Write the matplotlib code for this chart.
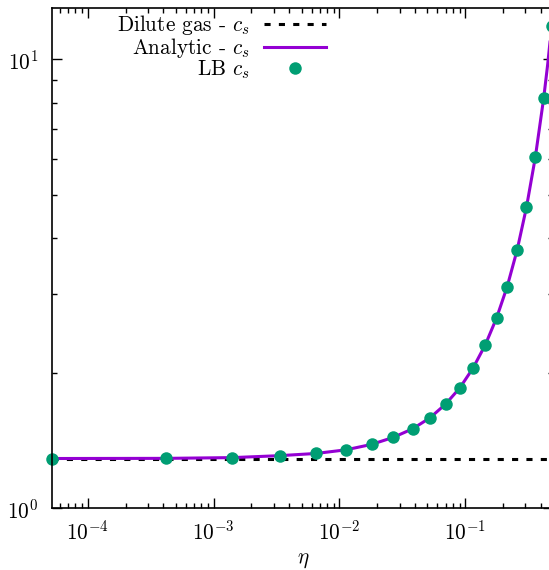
import numpy as np
import matplotlib
matplotlib.use('Agg')
from matplotlib import pyplot as plt
from matplotlib.ticker import LogLocator, FuncFormatter, NullFormatter

plt.rcParams['font.family'] = ['cmr10']
plt.rcParams['mathtext.fontset'] = 'cm'
plt.rcParams['axes.formatter.use_mathtext'] = True
plt.rcParams['font.size'] = 15.3

# packing fraction of the LB runs and measured sound speed
eta_lb = [5.24e-5, 4.19e-4, 1.41e-3, 3.35e-3, 6.54e-3, 1.13e-2, 1.80e-2,
          2.68e-2, 3.82e-2, 5.24e-2, 6.97e-2, 9.05e-2, 0.1150, 0.1437,
          0.1767, 0.2145, 0.2572, 0.3054, 0.3591, 0.4189, 0.4849]
cs_lb = [1.291, 1.292, 1.297, 1.310, 1.325, 1.350, 1.388,
         1.439, 1.504, 1.591, 1.707, 1.856, 2.053, 2.311,
         2.653, 3.115, 3.755, 4.68, 6.05, 8.21, 11.90]

# analytic curve
eta_an = [5.24e-5, 4.19e-4, 1.41e-3, 3.35e-3, 6.54e-3, 1.13e-2, 1.80e-2,
          2.68e-2, 3.82e-2, 5.24e-2, 6.97e-2, 9.05e-2, 0.1150, 0.1437,
          0.1767, 0.2145, 0.2572, 0.3054, 0.3591, 0.4189, 0.45, 0.4849, 0.5]
cs_an = [1.291, 1.292, 1.297, 1.310, 1.325, 1.350, 1.388,
         1.439, 1.504, 1.591, 1.707, 1.856, 2.053, 2.311,
         2.653, 3.115, 3.755, 4.68, 6.05, 8.21, 9.73, 11.90, 13.0]

# dilute gas limit
eta_dil = [5.24e-5, 0.5]
cs_dil = [1.291, 1.291]

fig = plt.figure(figsize=(5.49, 5.70), dpi=100)
ax = fig.add_axes([52.3 / 549, 61.7 / 570, (553.4 - 52.3) / 549, 500 / 570])

ax.plot(eta_dil, cs_dil, color='black', lw=2.2, linestyle=(0, (2.0, 2.7)),
        label=r'Dilute gas - $c_s$')
ax.plot(eta_an, cs_an, color='#9400D3', lw=2.2, label=r'Analytic - $c_s$')
ax.plot(eta_lb, cs_lb, 'o', color='#009E73', ms=9, mec='none',
        label=r'LB $c_s$', clip_on=False)

ax.set_xscale('log')
ax.set_yscale('log')
ax.set_xlim(5.24e-5, 0.5)
ax.set_ylim(1, 13)

for axis in (ax.xaxis, ax.yaxis):
    axis.set_major_locator(LogLocator(base=10))
    axis.set_minor_locator(LogLocator(base=10, subs=np.arange(2, 10)))
    axis.set_major_formatter(FuncFormatter(lambda v, _: r'$10^{%d}$' % round(np.log10(v))))
    axis.set_minor_formatter(NullFormatter())

ax.tick_params(which='both', direction='in', top=True, right=True, width=1)
ax.tick_params(which='major', length=7)
ax.tick_params(which='minor', length=3.5)
ax.tick_params(axis='x', which='major', pad=8)
ax.tick_params(axis='y', which='major', pad=10)
for s in ax.spines.values():
    s.set_linewidth(1.2)

ax.set_xlabel(r'$\eta$', labelpad=5)

ax.legend(loc='upper right', bbox_to_anchor=(326 / 549, 1 - 13 / 570),
          bbox_transform=fig.transFigure, frameon=False, markerfirst=False,
          handlelength=2.9, handletextpad=0.7, labelspacing=-0.05,
          borderpad=0, borderaxespad=0)

plt.savefig('out.png', dpi=100)
